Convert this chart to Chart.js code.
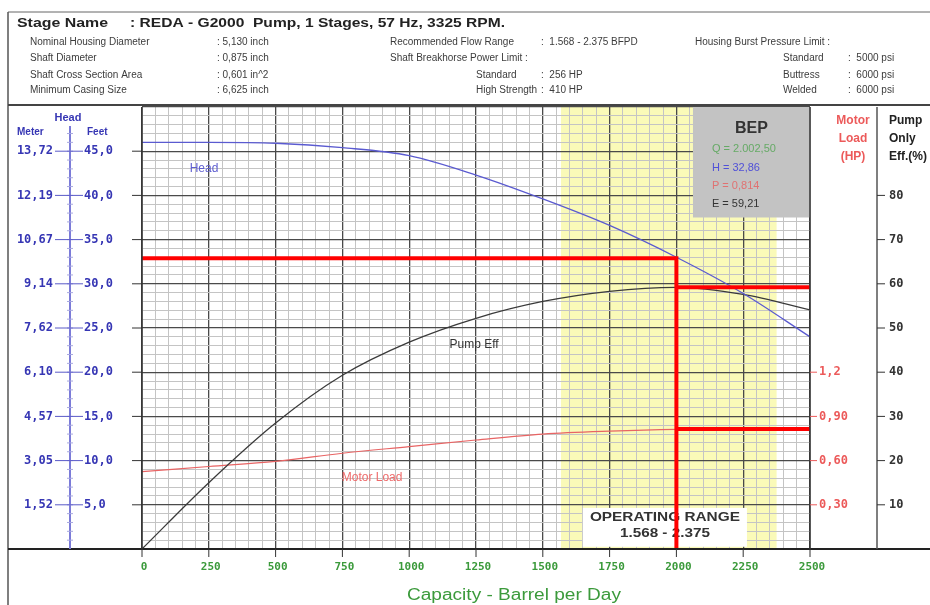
<!DOCTYPE html>
<html>
<head>
<meta charset="utf-8">
<script src="https://cdn.jsdelivr.net/npm/chart.js@4.4.1/dist/chart.umd.min.js"></script>
<style>
  html, body { margin: 0; padding: 0; background: #fff; overflow: hidden; }
  canvas { display: block; }
</style>
</head>
<body>
<canvas id="pumpCurve" width="930" height="605"></canvas>
<script>
// ---- Performance data (capacity in barrels per day) ----
const capacity    = [0, 250, 500, 750, 1000, 1250, 1500, 1750, 2000, 2250, 2500];
const headFeet    = [46.0, 46.0, 45.9, 45.4, 44.5, 42.3, 39.6, 36.6, 33.0, 28.9, 24.0];
const pumpEff     = [0, 15.0, 28.5, 39.3, 46.8, 52.2, 56.0, 58.3, 59.2, 57.6, 54.1];
const motorLoadHp = [0.525, 0.56, 0.595, 0.65, 0.695, 0.74, 0.78, 0.80, 0.812, 0.815, 0.812];

// ---- Axis ticks ----
const capacityTicks = [0, 250, 500, 750, 1000, 1250, 1500, 1750, 2000, 2250, 2500];
const feetTicks     = [5, 10, 15, 20, 25, 30, 35, 40, 45];
const feetLabels    = ['5,0', '10,0', '15,0', '20,0', '25,0', '30,0', '35,0', '40,0', '45,0'];
const meterLabels   = ['1,52', '3,05', '4,57', '6,10', '7,62', '9,14', '10,67', '12,19', '13,72'];
const motorTicks    = [0.3, 0.6, 0.9, 1.2];
const motorLabels   = ['0,30', '0,60', '0,90', '1,2'];
const effTicks      = [10, 20, 30, 40, 50, 60, 70, 80];

// ---- Operating window, best efficiency point and duty point ----
const operatingRange = [1568, 2375];
const bepValues = { q: '2.002,50', h: '32,86', p: '0,814', e: '59,21' };
const dutyQ = 2000, dutyHead = 32.9, dutyEff = 59.2, dutyMotor = 0.814;

// ---- Header text ----
const stageName = 'REDA - G2000  Pump, 1 Stages, 57 Hz, 3325 RPM.';
const pumpSpecs = [
  ['Nominal Housing Diameter', '5,130 inch'],
  ['Shaft Diameter', '0,875 inch'],
  ['Shaft Cross Section Area', '0,601 in^2'],
  ['Minimum Casing Size', '6,625 inch']
];
const flowRangeText = '1.568 - 2.375 BFPD';
const bhpLimits   = [['Standard', '256 HP'], ['High Strength', '410 HP']];
const burstLimits = [['Standard', '5000 psi'], ['Buttress', '6000 psi'], ['Welded', '6000 psi']];

const SANS = '"Liberation Sans", Arial, sans-serif';
const MONO = '"DejaVu Sans Mono", monospace';

function put(ctx, s, x, y, font, color, align, fitW) {
  ctx.save();
  ctx.font = font;
  ctx.fillStyle = color;
  ctx.textBaseline = 'middle';
  if (fitW) {
    const w = ctx.measureText(s).width;
    const ox = align === 'center' ? x - fitW / 2 : align === 'right' ? x - fitW : x;
    ctx.translate(ox, y);
    ctx.scale(fitW / w, 1);
    ctx.textAlign = 'left';
    ctx.fillText(s, 0, 0);
  } else {
    ctx.textAlign = align || 'left';
    ctx.fillText(s, x, y);
  }
  ctx.restore();
}

function hline(ctx, x0, x1, y, color, w) {
  ctx.save(); ctx.strokeStyle = color; ctx.lineWidth = w || 1;
  ctx.beginPath(); ctx.moveTo(x0, y); ctx.lineTo(x1, y); ctx.stroke(); ctx.restore();
}
function vline(ctx, x, y0, y1, color, w) {
  ctx.save(); ctx.strokeStyle = color; ctx.lineWidth = w || 1;
  ctx.beginPath(); ctx.moveTo(x, y0); ctx.lineTo(x, y1); ctx.stroke(); ctx.restore();
}

const decor = {
  id: 'decor',
  beforeDraw(chart) {
    const { ctx, chartArea: a, scales: { x } } = chart;
    ctx.save();
    ctx.fillStyle = '#fff';
    ctx.fillRect(0, 0, chart.width, chart.height);
    // recommended operating band
    const x0 = x.getPixelForValue(operatingRange[0]);
    const x1 = x.getPixelForValue(operatingRange[1]);
    ctx.fillStyle = '#fafab8';
    ctx.fillRect(x0, a.top, x1 - x0, a.bottom - a.top);
    ctx.restore();
  },
  beforeDatasetsDraw(chart) {
    const { ctx, scales: { x, y } } = chart;
    // BEP panel
    const bx0 = x.getPixelForValue(2062), bx1 = x.getPixelForValue(2500);
    const by0 = y.getPixelForValue(50), by1 = y.getPixelForValue(37.5);
    ctx.save();
    ctx.fillStyle = '#c3c3c3';
    ctx.fillRect(bx0, by0, bx1 - bx0, by1 - by0);
    ctx.restore();
    const cx = (bx0 + bx1) / 2;
    put(ctx, 'BEP', cx, by0 + 22, 'bold 16px ' + SANS, '#333', 'center');
    const tx = bx0 + 19;
    put(ctx, 'Q = ' + bepValues.q, tx, by0 + 42, '11px ' + SANS, '#66aa66');
    put(ctx, 'H = ' + bepValues.h, tx, by0 + 61, '11px ' + SANS, '#5050d8');
    put(ctx, 'P = ' + bepValues.p, tx, by0 + 79, '11px ' + SANS, '#e07272');
    put(ctx, 'E = ' + bepValues.e, tx, by0 + 97, '11px ' + SANS, '#333');

    // operating range caption
    const ox0 = x.getPixelForValue(1650), ox1 = x.getPixelForValue(2264);
    const oy0 = y.getPixelForValue(4.65), oy1 = y.getPixelForValue(0.25);
    ctx.save();
    ctx.fillStyle = '#fff';
    ctx.fillRect(ox0, oy0, ox1 - ox0, oy1 - oy0);
    ctx.restore();
    const ocx = (ox0 + ox1) / 2;
    put(ctx, 'OPERATING RANGE', ocx, oy0 + 10, 'bold 13px ' + SANS, '#333', 'center', 150);
    put(ctx, '1.568 - 2.375', ocx, oy0 + 26, 'bold 13px ' + SANS, '#333', 'center', 90);
  },
  afterDraw(chart) {
    const { ctx, chartArea: a, scales: { x, y } } = chart;
    const W = chart.width, H = chart.height;

    // ---- frames ----
    hline(ctx, 8, W, 12, '#666', 1);
    vline(ctx, 8, 12, H, '#555', 1.5);
    hline(ctx, 8, W, 105, '#444', 2);
    hline(ctx, 8, W, a.bottom, '#222', 2);
    vline(ctx, a.left, a.top, a.bottom, '#333', 1.5);
    vline(ctx, a.right, a.top, a.bottom, '#333', 1.5);
    vline(ctx, 877, a.top, a.bottom, '#555', 1.5);

    // ---- header ----
    put(ctx, 'Stage Name', 17, 23, 'bold 13px ' + SANS, '#222', 'left', 91);
    put(ctx, ': ' + stageName, 130, 23, 'bold 13px ' + SANS, '#222', 'left', 375);
    const rowY = [42, 58, 75, 90];
    const small = '10px ' + SANS, ink = '#3c3c3c';
    pumpSpecs.forEach((r, i) => {
      put(ctx, r[0], 30, rowY[i], small, ink);
      put(ctx, ': ' + r[1], 217, rowY[i], small, ink);
    });
    put(ctx, 'Recommended Flow Range', 390, rowY[0], small, ink);
    put(ctx, ':  ' + flowRangeText, 541, rowY[0], small, ink);
    put(ctx, 'Shaft Breakhorse Power Limit :', 390, rowY[1], small, ink);
    bhpLimits.forEach((r, i) => {
      put(ctx, r[0], 476, rowY[2 + i], small, ink);
      put(ctx, ':  ' + r[1], 541, rowY[2 + i], small, ink);
    });
    put(ctx, 'Housing Burst Pressure Limit :', 695, rowY[0], small, ink);
    burstLimits.forEach((r, i) => {
      put(ctx, r[0], 783, rowY[1 + i], small, ink);
      put(ctx, ':  ' + r[1], 848, rowY[1 + i], small, ink);
    });

    // ---- head axis (metres / feet) ----
    const blue = '#3636b4';
    vline(ctx, 70, 126, a.bottom, '#7b7bd8', 2);
    for (let f = 1; f < 48; f++) {
      const py = y.getPixelForValue(f);
      hline(ctx, 67, 73, py, '#a8a8e0', 1);
    }
    put(ctx, 'Head', 68, 118, 'bold 11px ' + SANS, blue, 'center');
    put(ctx, 'Meter', 17, 132, 'bold 10px ' + SANS, blue, 'left');
    put(ctx, 'Feet', 87, 132, 'bold 10px ' + SANS, blue, 'left');
    feetTicks.forEach((f, i) => {
      const py = y.getPixelForValue(f);
      hline(ctx, 55, 83, py, '#5a5ac8', 1);
      hline(ctx, 132, a.left, py, '#333', 1);
      put(ctx, meterLabels[i], 53, py, 'bold 12px ' + MONO, blue, 'right');
      put(ctx, feetLabels[i], 84, py, 'bold 12px ' + MONO, blue, 'left');
    });

    // ---- motor load axis ----
    const red = '#ec5a5a';
    put(ctx, 'Motor', 853, 121, 'bold 12px ' + SANS, red, 'center');
    put(ctx, 'Load', 853, 139, 'bold 12px ' + SANS, red, 'center');
    put(ctx, '(HP)', 853, 157, 'bold 12px ' + SANS, red, 'center');
    const yMotor = chart.scales.yMotor;
    motorTicks.forEach((m, i) => {
      const py = yMotor.getPixelForValue(m);
      hline(ctx, a.right, a.right + 7, py, red, 1);
      put(ctx, motorLabels[i], 819, py, 'bold 12px ' + MONO, red, 'left');
    });

    // ---- pump efficiency axis ----
    put(ctx, 'Pump', 889, 121, 'bold 12px ' + SANS, '#222', 'left');
    put(ctx, 'Only', 889, 139, 'bold 12px ' + SANS, '#222', 'left');
    put(ctx, 'Eff.(%)', 889, 157, 'bold 12px ' + SANS, '#222', 'left');
    const yEff = chart.scales.yEff;
    effTicks.forEach(e => {
      const py = yEff.getPixelForValue(e);
      hline(ctx, 877, 885, py, '#333', 1);
      put(ctx, String(e), 889, py, 'bold 12px ' + MONO, '#333', 'left');
    });

    // ---- capacity axis ----
    const green = '#3b9a3b';
    capacityTicks.forEach(c => {
      const pxv = x.getPixelForValue(c);
      vline(ctx, pxv, a.bottom, a.bottom + 8, '#333', 1);
      put(ctx, String(c), pxv + 2, a.bottom + 18, 'bold 11px ' + MONO, green, 'center');
    });
    put(ctx, 'Capacity - Barrel per Day', 514, 596, '16px ' + SANS, green, 'center', 214);

    // ---- curve captions ----
    put(ctx, 'Head', x.getPixelForValue(232), y.getPixelForValue(43.0), '12px ' + SANS, '#5e5ed0', 'center');
    put(ctx, 'Pump Eff', x.getPixelForValue(1243), y.getPixelForValue(23.1), '12px ' + SANS, '#333', 'center');
    put(ctx, 'Motor Load', x.getPixelForValue(861), y.getPixelForValue(8.06), '12px ' + SANS, '#ef6a6a', 'center');
  }
};

const pts = vals => capacity.map((q, i) => ({ x: q, y: vals[i] }));
const gridStyle = step => ({
  drawTicks: false,
  color: c => (Math.round(c.tick.value / step) * step === c.tick.value ? '#4a4a4a' : '#c4c4c4'),
  lineWidth: c => (Math.round(c.tick.value / step) * step === c.tick.value ? 1.3 : 1)
});

new Chart(document.getElementById('pumpCurve'), {
  type: 'line',
  data: {
    datasets: [
      { label: 'Duty head', data: [{ x: 0, y: dutyHead }, { x: dutyQ, y: dutyHead }, { x: dutyQ, y: 0 }],
        yAxisID: 'y', borderColor: '#ff0000', borderWidth: 4, pointRadius: 0, order: 0 },
      { label: 'Duty efficiency', data: [{ x: dutyQ, y: dutyEff }, { x: 2500, y: dutyEff }],
        yAxisID: 'yEff', borderColor: '#ff0000', borderWidth: 4, pointRadius: 0, order: 0 },
      { label: 'Duty motor load', data: [{ x: dutyQ, y: dutyMotor }, { x: 2500, y: dutyMotor }],
        yAxisID: 'yMotor', borderColor: '#ff0000', borderWidth: 4, pointRadius: 0, order: 0 },
      { label: 'Head', data: pts(headFeet), yAxisID: 'y', borderColor: '#5a5ad0', borderWidth: 1.3,
        pointRadius: 0, cubicInterpolationMode: 'monotone', order: 1 },
      { label: 'Pump Eff', data: pts(pumpEff), yAxisID: 'yEff', borderColor: '#3a3a3a', borderWidth: 1.3,
        pointRadius: 0, cubicInterpolationMode: 'monotone', order: 1 },
      { label: 'Motor Load', data: pts(motorLoadHp), yAxisID: 'yMotor', borderColor: '#e86464', borderWidth: 1.2,
        pointRadius: 0, cubicInterpolationMode: 'monotone', order: 1 }
    ]
  },
  options: {
    responsive: false,
    animation: false,
    devicePixelRatio: 1,
    layout: { padding: { left: 142, right: 120, top: 107, bottom: 56 } },
    plugins: { legend: { display: false }, tooltip: { enabled: false } },
    scales: {
      x: { type: 'linear', min: 0, max: 2500,
           ticks: { display: false, stepSize: 50, autoSkip: false },
           grid: gridStyle(250), border: { display: false } },
      y: { type: 'linear', position: 'left', min: 0, max: 50,
           ticks: { display: false, stepSize: 1, autoSkip: false },
           grid: gridStyle(5), border: { display: false } },
      yEff: { type: 'linear', position: 'right', min: 0, max: 100, display: false },
      yMotor: { type: 'linear', position: 'right', min: 0, max: 3, display: false }
    }
  },
  plugins: [decor]
});
</script>
</body>
</html>
